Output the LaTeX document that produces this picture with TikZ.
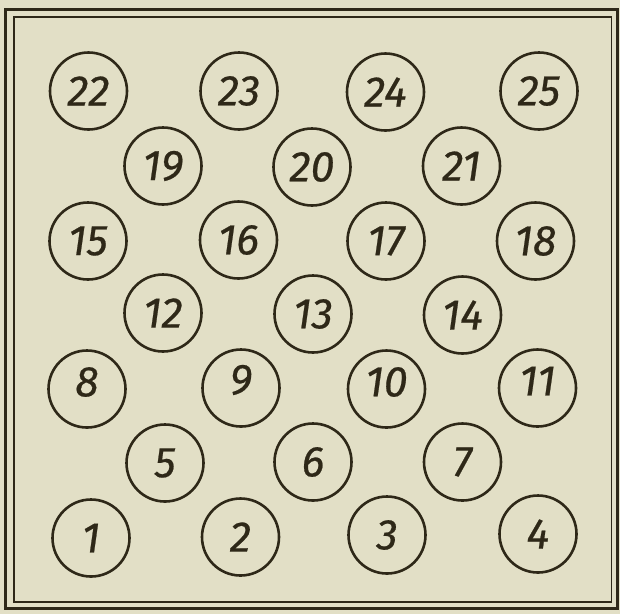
\documentclass[tikz,border=0pt]{standalone}
\usepackage{fontspec}
\setsansfont{Fira Sans}[ItalicFeatures={FakeBold=0.5}]
\definecolor{paper}{RGB}{226,223,198}
\definecolor{ink}{RGB}{46,40,24}
\tikzset{
  numfont/.style={text=ink, font=\sffamily\itshape\fontsize{43}{43}\selectfont},
  disc/.style={circle, draw=ink, line width=2.6pt, minimum size=77pt, inner sep=0pt, numfont},
  frameout/.style={draw=ink, line width=3pt},
  framein/.style={draw=ink, line width=1.8pt}
}
\begin{document}
\begin{tikzpicture}[x=1pt, y=-1pt]
\fill[paper] (0,0) rectangle (620,614);
\useasboundingbox (0,0) rectangle (620,614);
\draw[frameout] (5.5,9) rectangle (617.5,608);
\draw[framein] (14,17) rectangle (611.5,602);
% row 22-25
\node[disc] (n22) at (88.5,91) {22};
\node[disc] (n23) at (239,91) {23};
\node[disc] (n24) at (385.5,92) {24};
\node[disc] (n25) at (539,91) {25};
% row 19-21
\node[disc] (n19) at (163,166) {19};
\node[disc] (n20) at (312,167) {20};
\node[disc] (n21) at (461.5,166) {21};
% row 15-18
\node[disc] (n15) at (88,241) {15};
\node[disc] (n16) at (238.5,240) {16};
\node[disc] (n17) at (386,241) {17};
\node[disc] (n18) at (535.5,241) {18};
% row 12-14
\node[disc] (n12) at (163,313) {12};
\node[disc] (n13) at (313,314) {13};
\node[disc] (n14) at (462.5,315) {14};
% row 8-11
\node[disc] (n8) at (87,389) {};
\node[disc] (n9) at (241,388) {};
\node[disc] (n10) at (386.5,389) {};
\node[disc] (n11) at (537.5,388) {};
\node[numfont] (t8) at ([yshift=7pt]n8.center) {8};
\node[numfont] (t9) at ([yshift=8pt]n9.center) {9};
\node[numfont] (t10) at ([yshift=7pt]n10.center) {10};
\node[numfont] (t11) at ([yshift=7pt]n11.center) {11};
% row 5-7
\node[disc] (n5) at (165,463) {5};
\node[disc] (n6) at (313,462) {6};
\node[disc] (n7) at (462.5,462) {7};
% row 1-4
\node[disc] (n1) at (91,538) {1};
\node[disc] (n2) at (240.5,537) {2};
\node[disc] (n3) at (387,535) {3};
\node[disc] (n4) at (538,534) {4};
\end{tikzpicture}
\end{document}
